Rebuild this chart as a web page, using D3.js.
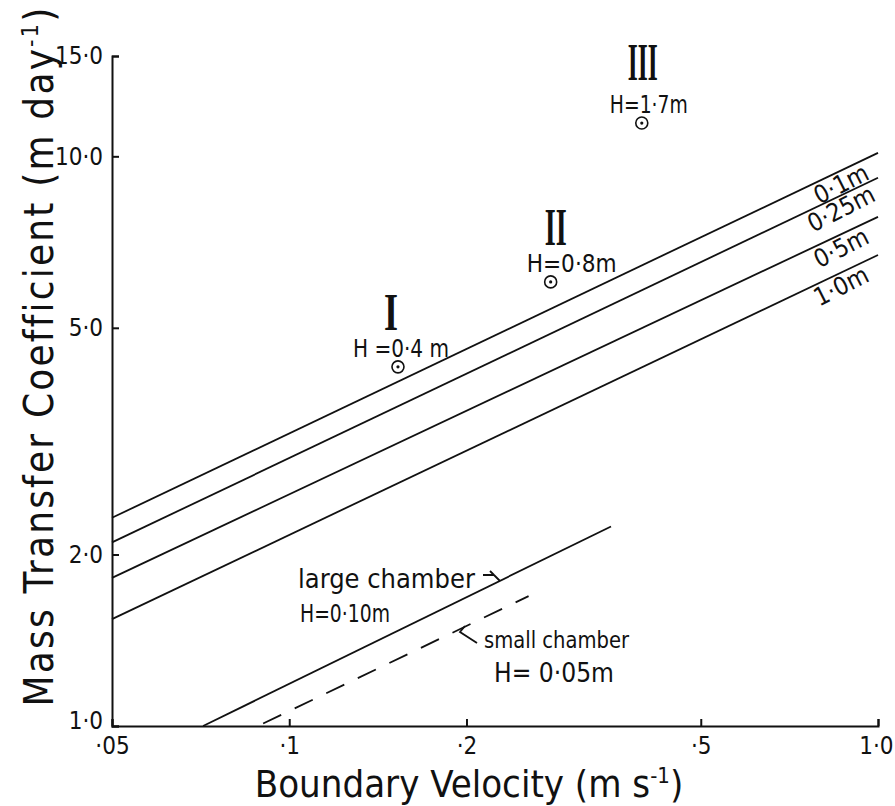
<!DOCTYPE html>
<html lang="en">
<head>
  <meta charset="UTF-8" />
  <title>Mass Transfer Coefficient vs Boundary Velocity</title>
  <script src="https://cdn.jsdelivr.net/npm/d3@7/dist/d3.min.js"></script>
  <style>
    html, body { margin: 0; padding: 0; background: #fff; }
    svg { display: block; }
    text { font-family: "Liberation Sans Narrow", "DejaVu Sans Condensed", "Liberation Sans", sans-serif; fill: #111; }
    .axis path, .axis line { stroke: #111; stroke-width: 2; }
    .axis text { font-size: 24px; }
  </style>
</head>
<body>
  <script>
    // Values (log-log axes).
    const xTicks = [0.05, 0.1, 0.2, 0.5, 1.0];
    const xTickLabels = ["·05", "·1", "·2", "·5", "1·0"];
    const yTicks = [1.0, 2.0, 5.0, 10.0, 15.0];
    const yTickLabels = ["1·0", "2·0", "5·0", "10·0", "15·0"];

    // Depth lines (H) drawn from v = 0.05 to v = 1.0
    const depthLabels = ["0·1m", "0·25m", "0·5m", "1·0m"];
    const depthVel = [0.05, 1.0];
    const depthK005 = [2.32, 2.10, 1.82, 1.54];
    const depthK1 = [10.14, 9.17, 7.83, 6.71];

    // Laboratory chambers
    const largeChamberVel = [0.0714, 0.352];
    const largeChamberK = [1.0, 2.24];
    const smallChamberVel = [0.0903, 0.255];
    const smallChamberK = [1.01, 1.69];

    // Field observations
    const siteNames = ["I", "II", "III"];
    const siteLabels = ["H =0·4 m", "H=0·8m", "H=1·7m"];
    const siteVel = [0.153, 0.278, 0.397];
    const siteK = [4.27, 6.02, 11.44];

    const width = 895, height = 806;

    const svg = d3.select("body").append("svg")
      .attr("width", width)
      .attr("height", height);

    const x = d3.scaleLog().domain([0.05, 1.0]).range([112, 878]);
    const y = d3.scaleLog().domain([1.0, 15.0]).range([726, 56]);

    // axes, ticks pointing inwards
    svg.append("g")
      .attr("class", "axis")
      .attr("transform", `translate(0,${y(1.0)})`)
      .call(d3.axisBottom(x)
        .tickValues(xTicks)
        .tickFormat((d, i) => xTickLabels[i])
        .tickSize(-7)
        .tickPadding(11))
      .call(g => g.selectAll("text")
        .attr("font-family", null)
        .attr("text-anchor", (d, i) => i === xTicks.length - 1 ? "end" : "middle")
        .attr("dx", (d, i) => i === xTicks.length - 1 ? 15 : 0));

    svg.append("g")
      .attr("class", "axis")
      .attr("transform", `translate(${x(0.05)},0)`)
      .call(d3.axisLeft(y)
        .tickValues(yTicks)
        .tickFormat((d, i) => yTickLabels[i])
        .tickSize(-7)
        .tickPadding(9))
      .call(g => g.selectAll("text")
        .attr("font-family", null)
        .attr("dy", (d, i) => i === 0 ? "0.1em" : "0.32em"));

    const line = d3.line().x(d => x(d[0])).y(d => y(d[1]));

    // depth lines
    depthLabels.forEach((lab, i) => {
      const pts = [[depthVel[0], depthK005[i]], [depthVel[1], depthK1[i]]];
      svg.append("path")
        .attr("d", line(pts))
        .attr("fill", "none")
        .attr("stroke", "#111")
        .attr("stroke-width", 1.8);

      // label just under the line near its right end
      const lx = 845, vx = x.invert(lx);
      const k = Math.exp(Math.log(depthK005[i]) +
        (Math.log(depthK1[i]) - Math.log(depthK005[i])) *
        (Math.log(vx) - Math.log(0.05)) / (Math.log(1.0) - Math.log(0.05)));
      svg.append("text")
        .attr("transform", `translate(${lx},${y(k) + 23}) rotate(-27)`)
        .attr("text-anchor", "middle")
        .attr("font-size", 25)
        .text(lab);
    });

    // chamber lines
    svg.append("path")
      .attr("d", line(largeChamberVel.map((v, i) => [v, largeChamberK[i]])))
      .attr("fill", "none")
      .attr("stroke", "#111")
      .attr("stroke-width", 1.8);

    svg.append("path")
      .attr("d", line(smallChamberVel.map((v, i) => [v, smallChamberK[i]])))
      .attr("fill", "none")
      .attr("stroke", "#111")
      .attr("stroke-width", 1.8)
      .attr("stroke-dasharray", "20,15");

    // chamber annotations
    svg.append("text").attr("x", 298).attr("y", 588).attr("font-size", 27).text("large chamber");
    svg.append("text").attr("x", 300).attr("y", 622).attr("font-size", 25)
      .attr("textLength", 90).attr("lengthAdjust", "spacingAndGlyphs").text("H=0·10m");
    svg.append("path")
      .attr("d", "M483,575 L494,575 L500,581 M494,575 L490,571")
      .attr("fill", "none").attr("stroke", "#111").attr("stroke-width", 1.8);

    svg.append("text").attr("x", 484).attr("y", 648).attr("font-size", 23)
      .attr("textLength", 145).attr("lengthAdjust", "spacingAndGlyphs").text("small chamber");
    svg.append("text").attr("x", 494).attr("y", 682).attr("font-size", 26)
      .attr("textLength", 120).attr("lengthAdjust", "spacingAndGlyphs").text("H= 0·05m");
    svg.append("path")
      .attr("d", "M477,643 L460,632 L465,626")
      .attr("fill", "none").attr("stroke", "#111").attr("stroke-width", 1.8);

    // field sites
    const labelWidth = [96, 90, 78];
    const labelShift = [-45, -24, -32];
    const numeralShift = [-7, 5, 1];
    const numeralWidth = [14, 22, 30];
    siteNames.forEach((nm, i) => {
      const cx = x(siteVel[i]), cy = y(siteK[i]);
      svg.append("circle")
        .attr("cx", cx).attr("cy", cy).attr("r", 6)
        .attr("fill", "none").attr("stroke", "#111").attr("stroke-width", 1.6);
      svg.append("circle")
        .attr("cx", cx).attr("cy", cy).attr("r", 1.6)
        .attr("fill", "#111");
      svg.append("text")
        .attr("x", cx + labelShift[i])
        .attr("y", cy - 10)
        .attr("font-size", 25)
        .attr("textLength", labelWidth[i])
        .attr("lengthAdjust", "spacingAndGlyphs")
        .text(siteLabels[i]);
      svg.append("text")
        .attr("x", cx + numeralShift[i])
        .attr("y", cy - 37 - (i === 2 ? 6 : 0))
        .attr("text-anchor", "middle")
        .attr("font-size", 52)
        .attr("font-weight", "bold")
        .attr("textLength", numeralWidth[i])
        .attr("lengthAdjust", "spacingAndGlyphs")
        .style("font-family", "'Liberation Serif', 'DejaVu Serif', serif")
        .text(nm);
    });

    // axis titles
    const xt = svg.append("text")
      .attr("x", 469).attr("y", 797)
      .attr("text-anchor", "middle")
      .attr("font-size", 38);
    xt.append("tspan").text("Boundary  Velocity (m s");
    xt.append("tspan").attr("dy", -14).attr("font-size", 22).text("-1");
    xt.append("tspan").attr("dy", 14).text(")");

    const yt = svg.append("text")
      .attr("transform", "translate(53,356) rotate(-90)")
      .attr("text-anchor", "middle")
      .attr("font-size", 40)
      .style("letter-spacing", "2.2px");
    yt.append("tspan").text("Mass Transfer Coefficient (m day");
    yt.append("tspan").attr("dy", -15).attr("font-size", 23).text("-1");
    yt.append("tspan").attr("dy", 15).text(")");
  </script>
</body>
</html>
